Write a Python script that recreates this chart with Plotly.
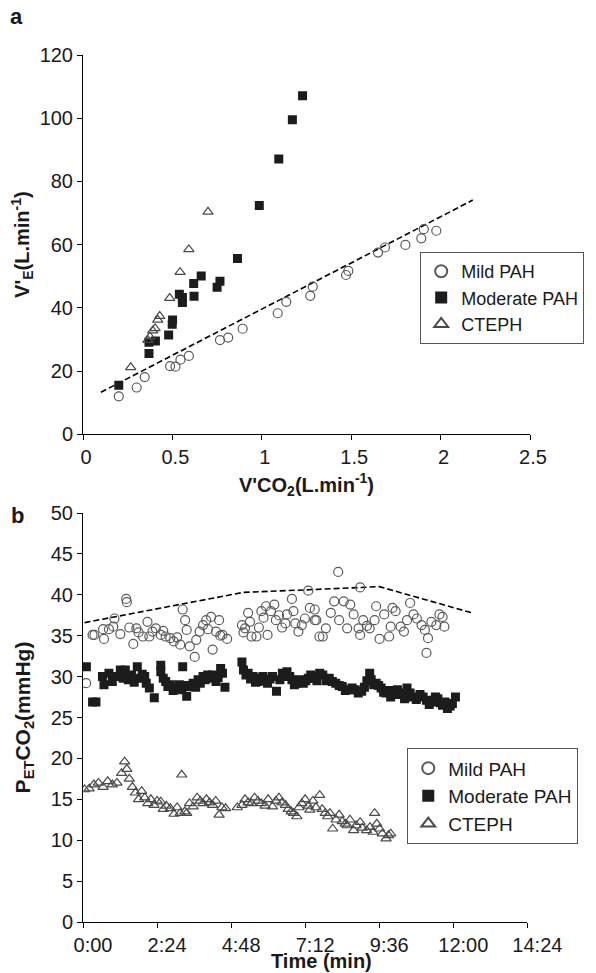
import plotly.graph_objects as go

# ---------------- Panel a data ----------------
a_mild_x = [0.20, 0.30, 0.345, 0.487, 0.517, 0.545, 0.592, 0.766, 0.812, 0.893, 1.089, 1.137,
            1.271, 1.285, 1.471, 1.484, 1.650, 1.689, 1.803, 1.892, 1.906, 1.976]
a_mild_y = [12.0, 14.8, 18.1, 21.6, 21.4, 23.6, 24.8, 29.8, 30.6, 33.4, 38.3, 41.9,
            43.8, 46.7, 50.4, 51.7, 57.5, 59.1, 59.9, 62.0, 64.9, 64.4]

a_mod_x = [0.20, 0.369, 0.369, 0.405, 0.479, 0.499, 0.501, 0.539, 0.556, 0.556, 0.619, 0.621,
           0.661, 0.750, 0.766, 0.864, 0.986, 1.095, 1.171, 1.228]
a_mod_y = [15.5, 25.6, 29.1, 29.5, 31.4, 34.8, 36.2, 44.3, 43.3, 41.7, 47.7, 43.7,
           50.1, 46.5, 48.4, 55.6, 72.4, 87.1, 99.5, 107.1]

a_cteph_x = [0.267, 0.363, 0.374, 0.390, 0.403, 0.418, 0.429, 0.485, 0.543, 0.592, 0.699]
a_cteph_y = [21.2, 29.8, 30.9, 32.8, 33.5, 36.2, 37.4, 43.1, 51.3, 58.5, 70.4]

a_ref_x = [0.10, 2.18]
a_ref_y = [13.3, 74.1]

a_xticks = [0, 0.5, 1, 1.5, 2, 2.5]
a_yticks = [0, 20, 40, 60, 80, 100, 120]

# ---------------- Panel b data (time in minutes) ----------------
b_mild_t = [0.10, 0.31, 0.37, 0.65, 0.68, 0.84, 0.98, 1.02, 1.21, 1.40, 1.42, 1.50, 1.63, 1.73, 1.80,
            1.94, 2.09, 2.15, 2.25, 2.36, 2.52, 2.60, 2.68, 2.83, 2.94, 3.05, 3.15, 3.23, 3.31, 3.36,
            3.46, 3.62, 3.67, 3.78, 3.89, 3.99, 4.05, 4.15, 4.20, 4.31, 4.41, 4.45, 4.52, 4.67, 5.15,
            5.20, 5.25, 5.35, 5.41, 5.46, 5.62, 5.70, 5.78, 5.85, 5.93, 5.98, 6.09, 6.20, 6.25, 6.35,
            6.45, 6.56, 6.61, 6.77, 6.82, 6.88, 6.98, 7.09, 7.19, 7.30, 7.35, 7.51, 7.51, 7.56, 7.66,
            7.77, 7.87, 8.03, 8.14, 8.27, 8.30, 8.45, 8.56, 8.66, 8.77, 8.93, 8.98, 8.98, 9.08, 9.20,
            9.29, 9.45, 9.50, 9.61, 9.76, 9.92, 9.97, 10.03, 10.13, 10.29, 10.40, 10.50, 10.60, 10.71,
            10.82, 10.97, 11.08, 11.13, 11.18, 11.29, 11.45, 11.55, 11.65, 11.71]
b_mild_v = [29.2, 35.1, 35.1, 35.8, 34.6, 35.8, 36.1, 37.1, 35.2, 39.5, 39.1, 36.0, 34.0, 35.9, 35.4,
            34.9, 36.7, 34.9, 35.5, 35.9, 35.1, 35.6, 34.9, 34.7, 34.3, 34.8, 33.9, 38.2, 36.9, 35.7,
            33.7, 32.4, 34.5, 35.5, 36.3, 36.9, 35.8, 37.3, 33.3, 35.5, 36.9, 35.0, 35.1, 34.6, 36.3,
            35.4, 35.9, 37.8, 36.7, 34.9, 34.9, 36.0, 38.0, 37.2, 38.6, 35.1, 38.0, 38.8, 36.9, 37.5,
            36.0, 36.5, 37.6, 39.5, 38.0, 36.5, 35.5, 36.3, 37.1, 40.5, 38.4, 36.9, 38.2, 36.9, 34.9,
            34.9, 35.9, 37.8, 39.2, 42.8, 36.9, 39.2, 35.9, 38.8, 37.6, 35.9, 40.9, 35.1, 36.9, 36.2,
            35.9, 36.9, 38.6, 34.6, 37.6, 34.9, 36.1, 38.4, 38.0, 36.1, 35.5, 36.9, 39.0, 37.6,
            37.1, 36.3, 35.7, 32.9, 34.7, 36.7, 36.3, 37.6, 37.3, 36.1]

b_mod_t = [0.11, 0.31, 0.42, 0.63, 0.68, 0.84, 0.95, 1.10, 1.21, 1.30, 1.37, 1.47, 1.57, 1.66, 1.76,
           1.84, 1.92, 2.00, 2.05, 2.15, 2.31, 2.52, 2.52, 2.60, 2.68, 2.75, 2.83, 2.92, 3.05, 3.12,
           3.20, 3.23, 3.30, 3.36, 3.46, 3.57, 3.65, 3.73, 3.80, 3.89, 3.96, 4.04, 4.12, 4.20, 4.31,
           4.38, 4.46, 4.52, 4.60, 5.15, 5.20, 5.28, 5.35, 5.43, 5.51, 5.59, 5.67, 5.75, 5.83, 5.90,
           5.98, 6.06, 6.14, 6.27, 6.38, 6.46, 6.54, 6.61, 6.70, 6.77, 6.85, 6.93, 7.03, 7.14, 7.22,
           7.30, 7.38, 7.46, 7.51, 7.58, 7.67, 7.77, 7.88, 7.98, 8.08, 8.19, 8.30, 8.40, 8.50, 8.61,
           8.72, 8.82, 8.92, 9.03, 9.12, 9.20, 9.29, 9.34, 9.42, 9.50, 9.58, 9.66, 9.74, 9.82, 9.90,
           9.97, 10.08, 10.19, 10.27, 10.34, 10.42, 10.50, 10.60, 10.71, 10.80, 10.92, 11.02, 11.13,
           11.22, 11.34, 11.42, 11.50, 11.58, 11.65, 11.73, 11.81, 11.90, 11.97, 12.07]
b_mod_v = [31.2, 26.9, 26.9, 30.0, 29.0, 30.4, 29.4, 30.0, 30.8, 29.8, 30.8, 29.6, 30.2, 29.3, 31.2,
           29.8, 30.3, 30.0, 29.2, 28.6, 27.4, 31.4, 30.6, 29.8, 29.4, 28.8, 29.0, 28.3, 28.6, 29.0,
           28.4, 31.2, 28.9, 27.6, 28.8, 29.2, 28.7, 29.6, 29.2, 30.0, 29.6, 30.2, 29.8, 30.2, 29.4,
           29.9, 31.0, 30.4, 28.7, 31.8, 30.8, 30.2, 30.4, 29.7, 30.0, 29.3, 29.4, 29.8, 30.0, 29.5,
           29.2, 29.7, 30.0, 28.2, 29.6, 30.4, 30.0, 30.6, 30.0, 29.6, 29.0, 29.2, 29.6, 29.2, 29.5,
           29.8, 30.2, 30.0, 29.8, 29.5, 30.4, 30.2, 29.5, 29.8, 29.4, 29.2, 28.9, 28.8, 28.3, 28.4,
           28.6, 28.4, 28.0, 28.2, 28.7, 29.5, 30.4, 29.6, 29.0, 29.2, 28.9, 28.6, 28.1, 28.0, 28.3,
           27.5, 27.8, 28.4, 28.0, 27.8, 27.3, 28.6, 28.0, 27.5, 27.2, 27.8, 27.5, 27.1,
           26.6, 26.9, 27.5, 27.3, 26.8, 26.5, 26.9, 26.1, 26.4, 26.7, 27.5]

b_cteph_t = [0.05, 0.20, 0.35, 0.50, 0.65, 0.80, 0.95, 1.10, 1.25, 1.35, 1.42, 1.50, 1.60, 1.70, 1.80,
             1.90, 2.00, 2.10, 2.20, 2.30, 2.40, 2.52, 2.60, 2.70, 2.83, 2.95, 3.05, 3.15, 3.20, 3.30,
             3.36, 3.45, 3.57, 3.70, 3.80, 3.89, 4.00, 4.10, 4.20, 4.30, 4.41, 4.50, 4.62, 5.00, 5.15,
             5.25, 5.35, 5.46, 5.56, 5.67, 5.78, 5.90, 6.00, 6.14, 6.25, 6.35, 6.45, 6.56, 6.65, 6.75,
             6.82, 6.93, 7.00, 7.09, 7.20, 7.30, 7.35, 7.45, 7.55, 7.67, 7.75, 7.85, 7.93, 8.00, 8.09,
             8.20, 8.30, 8.40, 8.50, 8.56, 8.65, 8.77, 8.85, 8.98, 9.05, 9.19, 9.30, 9.40, 9.45, 9.52,
             9.61, 9.70, 9.82, 9.90, 9.97]
b_cteph_v = [16.2, 16.3, 16.8, 17.0, 16.5, 17.2, 16.8, 17.0, 18.2, 19.6, 18.7, 17.5, 16.5, 15.8, 15.0,
             16.0, 15.2, 14.5, 15.0, 14.3, 14.8, 14.7, 13.8, 14.2, 13.9, 13.2, 14.0, 13.3, 18.0, 13.5,
             13.3, 14.5, 14.1, 15.2, 14.8, 14.5, 15.0, 14.6, 14.3, 14.8, 13.1, 14.0, 13.9, 14.0, 14.3,
             15.0, 14.6, 14.5, 15.2, 14.8, 14.5, 14.2, 15.0, 14.1, 14.8, 15.2, 14.6, 14.3, 13.8, 13.5,
             13.3, 12.9, 14.0, 14.5, 15.0, 14.2, 13.7, 14.8, 14.0, 15.5, 13.8, 13.3, 12.9, 13.3, 11.4,
             12.5, 13.1, 12.3, 12.0, 11.8, 12.5, 11.2, 11.8, 12.2, 11.5, 11.2, 11.6, 11.0, 13.3, 12.0,
             11.4, 10.8, 10.2, 10.6, 10.8]

b_ref_t = [0.05, 5.2, 7.2, 9.6, 12.6]
b_ref_v = [36.6, 40.3, 40.6, 41.0, 37.8]

b_xtick_vals = [0, 2.4, 4.8, 7.2, 9.6, 12.0, 14.4]
b_xtick_text = ["0:00", "2:24", "4:48", "7:12", "9:36", "12:00", "14:24"]
b_yticks = [0, 5, 10, 15, 20, 25, 30, 35, 40, 45, 50]

FONT = "Liberation Sans, Arial, Helvetica, sans-serif"
INK = "#1a1a1a"

# figure geometry (pixels)
W, H = 596, 973
ML, MR, MT, MB = 83, 53, 55, 51
PW, PH = W - ML - MR, H - MT - MB


def px_x(px):
    return (px - ML) / PW


def px_y(py):
    return (H - MB - py) / PH


mild_marker = dict(symbol="circle-open", size=9, color="#5a5a5a", line=dict(width=1.2))
mod_marker = dict(symbol="square", size=9, color="#1c1c1c", line=dict(width=0))
cteph_marker = dict(symbol="triangle-up-open", size=9, color="#4a4a4a", line=dict(width=1.2))

fig = go.Figure()

# Panel a
fig.add_trace(go.Scatter(x=a_ref_x, y=a_ref_y, mode="lines", showlegend=False,
                         line=dict(color="black", width=1.6, dash="6px,3px"), xaxis="x", yaxis="y"))
fig.add_trace(go.Scatter(x=a_mild_x, y=a_mild_y, mode="markers", name="Mild PAH",
                         marker=mild_marker, xaxis="x", yaxis="y", legend="legend"))
fig.add_trace(go.Scatter(x=a_mod_x, y=a_mod_y, mode="markers", name="Moderate PAH",
                         marker=mod_marker, xaxis="x", yaxis="y", legend="legend"))
fig.add_trace(go.Scatter(x=a_cteph_x, y=a_cteph_y, mode="markers", name="CTEPH",
                         marker=cteph_marker, xaxis="x", yaxis="y", legend="legend"))

# Panel b
fig.add_trace(go.Scatter(x=b_ref_t, y=b_ref_v, mode="lines", showlegend=False,
                         line=dict(color="black", width=1.6, dash="6px,3px"), xaxis="x2", yaxis="y2"))
fig.add_trace(go.Scatter(x=b_mild_t, y=b_mild_v, mode="markers", name="Mild PAH",
                         marker=mild_marker, xaxis="x2", yaxis="y2", legend="legend2"))
fig.add_trace(go.Scatter(x=b_mod_t, y=b_mod_v, mode="markers", name="Moderate PAH",
                         marker=mod_marker, xaxis="x2", yaxis="y2", legend="legend2"))
fig.add_trace(go.Scatter(x=b_cteph_t, y=b_cteph_v, mode="markers", name="CTEPH",
                         marker=cteph_marker, xaxis="x2", yaxis="y2", legend="legend2"))

axis_common = dict(showgrid=False, zeroline=False, showline=True, linecolor="black", linewidth=1,
                   ticks="outside", ticklen=5, tickcolor="black", tickwidth=1,
                   tickfont=dict(family=FONT, size=20, color=INK))

fig.update_layout(
    width=W, height=H,
    margin=dict(l=ML, r=MR, t=MT, b=MB),
    paper_bgcolor="white", plot_bgcolor="white",
    font=dict(family=FONT, color=INK),
    xaxis=dict(domain=[0, 1], anchor="y", range=[0, 2.5], tickvals=a_xticks, ticklabelshift=3,
               title=dict(text="<b>V'CO<sub>2</sub>(L.min<sup>-1</sup>)</b>",
                          font=dict(family=FONT, size=20, color=INK), standoff=10),
               **axis_common),
    yaxis=dict(domain=[px_y(434.3), 1], anchor="x", range=[0, 120], tickvals=a_yticks,
               title=dict(text="<b>V'<sub>E</sub>(L.min<sup>-1</sup>)</b>",
                          font=dict(family=FONT, size=20, color=INK), standoff=4),
               **axis_common),
    xaxis2=dict(domain=[0, px_x(540.3)], anchor="y2", range=[0, 14.4], tickvals=b_xtick_vals,
                ticktext=b_xtick_text, ticklabelshift=10, **axis_common),
    yaxis2=dict(domain=[0, px_y(513)], anchor="x2", range=[0, 50], tickvals=b_yticks,
                title=dict(text="<b>P<sub>ET</sub>CO<sub>2</sub>(mmHg)</b>",
                           font=dict(family=FONT, size=21, color=INK), standoff=14),
                **axis_common),
    legend=dict(x=px_x(430), y=px_y(252), xanchor="left", yanchor="top",
                bordercolor="#555", borderwidth=1, bgcolor="white",
                font=dict(family=FONT, size=18, color=INK), itemsizing="constant",
                tracegroupgap=0),
    legend2=dict(x=px_x(416.7), y=px_y(748.3), xanchor="left", yanchor="top",
                 bordercolor="#555", borderwidth=1, bgcolor="white",
                 font=dict(family=FONT, size=19, color=INK), itemsizing="constant",
                 tracegroupgap=0),
    annotations=[
        dict(text="<b>a</b>", x=px_x(15), y=px_y(17), xref="paper", yref="paper",
             xanchor="center", yanchor="middle", showarrow=False,
             font=dict(family=FONT, size=22, color=INK)),
        dict(text="<b>b</b>", x=px_x(16), y=px_y(515), xref="paper", yref="paper",
             xanchor="center", yanchor="middle", showarrow=False,
             font=dict(family=FONT, size=22, color=INK)),
        dict(text="<b>Time (min)</b>", x=px_x(328), y=px_y(961), xref="paper", yref="paper",
             xanchor="center", yanchor="middle", showarrow=False,
             font=dict(family=FONT, size=20, color=INK)),
    ],
)

# remove the browser's default 8px page margin so the figure sits at the window origin
fig.write_html("out.html", config={"displayModeBar": False},
               post_script="document.body.style.margin='0';document.body.style.overflow='hidden';")
